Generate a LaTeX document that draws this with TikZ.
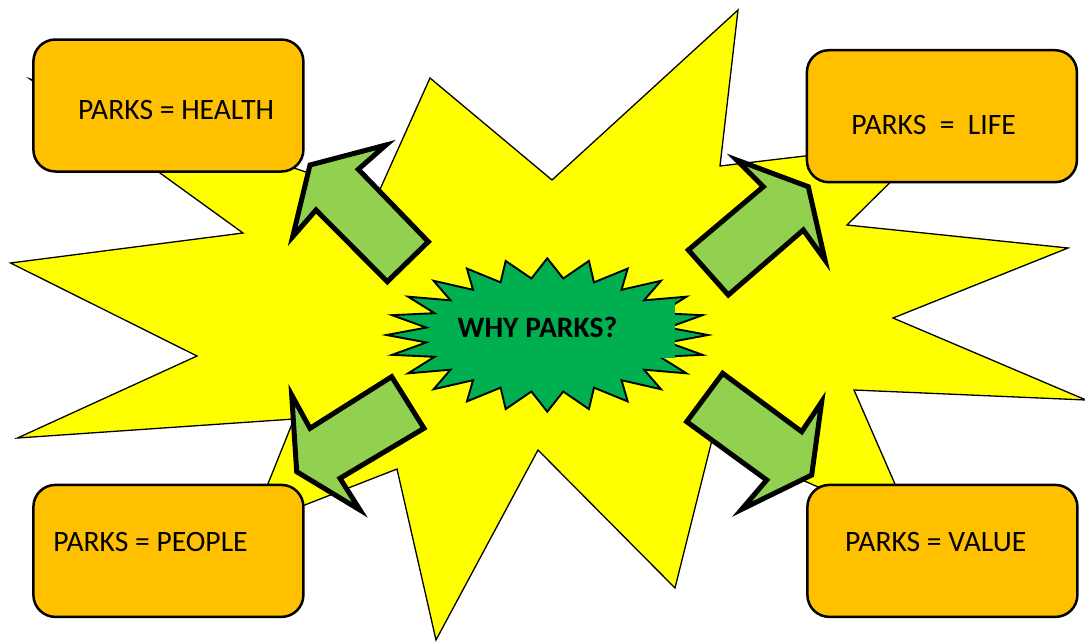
\documentclass[tikz,border=0pt]{standalone}
\usepackage{fontspec}
\setmainfont{Carlito}
\definecolor{burstyellow}{HTML}{FFFF00}
\definecolor{boxorange}{HTML}{FFC000}
\definecolor{stargreen}{HTML}{00B050}
\definecolor{arrowgreen}{HTML}{92D050}
\begin{document}
\begin{tikzpicture}[x=1pt,y=-1pt,
  boxstyle/.style={draw=black, line width=2.5pt, fill=boxorange, rounded corners=22pt,
    minimum width=270pt, minimum height=132pt, inner sep=0pt},
  boxtext/.style={font=\fontsize{29.6}{34}\selectfont, inner sep=0pt, anchor=base},
  fatarrow/.style={draw=black, line width=5pt, fill=arrowgreen, line join=miter, miter limit=25},
  burststyle/.style={draw=black, line width=1.3pt, fill=burstyellow, line join=miter},
  starstyle/.style={draw=black, line width=1.9pt, fill=stargreen, line join=miter}
]
\useasboundingbox (0,0) rectangle (1085,641);
\fill[white] (0,0) rectangle (1085,641);

% big yellow explosion
\draw[burststyle] (552,180) -- (738,10) -- (720,166) -- (932,141) -- (847,225) -- (1068,248)
  -- (893,318) -- (1086,400) -- (854,390) -- (915,530) -- (712,440) -- (675,588)
  -- (538,450) -- (436,640) -- (397,469) -- (251,526) -- (294,419) -- (17.5,438)
  -- (197,356) -- (10.5,263) -- (243,233) -- (30,79) -- (377,196) -- (430,78) -- cycle;

% boxes
\node[boxstyle] (health) at (168.4,105.5) {};
\node[boxstyle] (life) at (941.9,116.2) {};
\node[boxstyle] (people) at (168.4,550.9) {};
\node[boxstyle] (value) at (942.4,550.9) {};

\node[boxtext] (thealth) at (176.1,119) {PARKS = HEALTH};
\node[boxtext] (tlife) at (933.6,134) {PARKS\ \ =\ \ LIFE};
\node[boxtext] (tpeople) at (150.5,551.7) {PARKS = PEOPLE};
\node[boxtext] (tvalue) at (935.7,551.7) {PARKS = VALUE};

% block arrows
\draw[fatarrow] (386,145) -- (358.3,169.3) -- (428.3,241.7) -- (387.3,281.7) -- (316,210)
  -- (292.7,236.7) -- (310,165) -- cycle;
\draw[fatarrow] (736.7,160) -- (808.3,186.7) -- (825,260) -- (803.3,230) -- (728.3,295)
  -- (688.3,250) -- (763.3,186.7) -- cycle;
\draw[fatarrow] (291.7,395) -- (310,428.3) -- (391.7,376.7) -- (424,428.3) -- (340,478.3)
  -- (360,510) -- (296.7,471.7) -- cycle;
\draw[fatarrow] (722.7,373.3) -- (801.7,431.7) -- (821.7,401.7) -- (811.7,475) -- (741.7,509.3)
  -- (766.7,480) -- (686.7,421.7) -- cycle;

% green starburst
\draw[starstyle] ({547.3+160.8},335)
  \foreach \k in {0,...,23} {
    -- ({547.3+122*cos(\k*15+7.5)},{335-57*sin(\k*15+7.5)})
    -- ({547.3+160.8*cos(\k*15+15)},{335-76.7*sin(\k*15+15)})
  } -- cycle;
\fill[stargreen] (440,302) rectangle (675,358);
\node[font=\fontsize{29.6}{34}\selectfont\bfseries, inner sep=0pt, anchor=base] (why) at (537.5,337.3) {WHY PARKS?};
\end{tikzpicture}
\end{document}
